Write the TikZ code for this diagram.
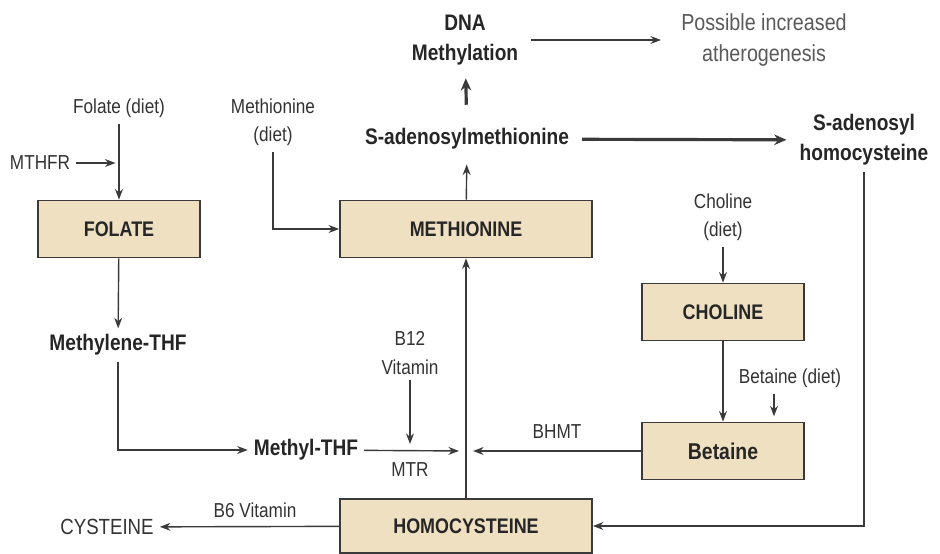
\documentclass[tikz,border=0pt]{standalone}
\usepackage{fontspec}
\setmainfont{Liberation Sans}[FakeStretch=0.85]
\usetikzlibrary{arrows.meta}
\definecolor{boxfill}{HTML}{EFE0C2}
\definecolor{inkgray}{HTML}{3A3A3A}

\begin{document}
\begin{tikzpicture}[x=0.02cm,y=-0.02cm,
    box/.style={draw=inkgray,fill=boxfill,line width=1pt,minimum width=3.24cm,minimum height=1.14cm,font=\fontsize{12}{14}\selectfont\bfseries,text=black!85},
    bigbox/.style={box,minimum width=5.04cm},
    lbl/.style={font=\fontsize{12.8}{17}\selectfont\bfseries,align=center,text=black!85},
    note/.style={font=\fontsize{11.5}{16}\selectfont,align=center,text=black!80},
    arr/.style={draw=inkgray,line width=0.8pt,-{Stealth[length=6pt,width=4.5pt]}},
    fat/.style={arr,line width=1.8pt,-{Stealth[length=7pt,width=6pt]}}]
    \useasboundingbox (0,0) rectangle (940,554);
    \node[box] (fol) at (119,229) {FOLATE};
    \node[bigbox] (meth) at (466,229) {METHIONINE};
    \node[box] (chol) at (723,312) {CHOLINE};
    \node[box,font=\fontsize{13}{15}\selectfont\bfseries] (bet) at (723,451) {Betaine};
    \node[bigbox,minimum height=1.08cm] (hcy) at (466,526) {HOMOCYSTEINE};
    \node[lbl] (dna) at (465,40) {DNA\\Methylation};
    \node[note,text=black!65,font=\fontsize{13.2}{18}\selectfont] (athero) at (764,40) {Possible increased\\atherogenesis};
    \node[lbl] (sam) at (467,139) {S-adenosylmethionine};
    \node[lbl] (sah) at (864,140) {S-adenosyl\\homocysteine};
    \node[note] (folDiet) at (119,108) {Folate (diet)};
    \node[note] (mthfr) at (40,163) {MTHFR};
    \node[note] (methDiet) at (273,122) {Methionine\\(diet)};
    \node[lbl] (mlTHF) at (118,345) {Methylene-THF};
    \node[lbl] (mtTHF) at (306,450) {Methyl-THF};
    \node[note] (b12) at (410,353) {B12\\Vitamin};
    \node[note] (mtr) at (410,470) {MTR};
    \node[note] (cholDiet) at (723,217) {Choline\\(diet)};
    \node[note] (betDiet) at (790,378) {Betaine (diet)};
    \node[note] (bhmt) at (557,432) {BHMT};
    \node[note] (b6) at (255,510) {B6 Vitamin};
    \node[note,font=\fontsize{12.5}{15}\selectfont] (cys) at (107,527) {CYSTEINE};
    \coordinate (jn) at (hcy.north |- bet.west);
    \draw[arr] (folDiet) -- (fol);
    \draw[arr,shorten >=2] (mthfr) -- (fol.north |- mthfr);
    \draw[arr] (methDiet) |- (meth);
    \draw[arr] (fol) -- (mlTHF);
    \draw[arr] (mlTHF) |- (mtTHF);
    \draw[arr,shorten >=4] (mtTHF) -- (jn);
    \draw[arr,shorten >=4] (b12) -- (b12 |- jn);
    \draw[arr,shorten >=4] (bet) -- (jn);
    \draw[arr] (hcy) -- (meth);
    \draw[arr,shorten >=5] (meth) -- (sam);
    \draw[fat,shorten <=10,shorten >=4] (sam) -- (dna);
    \draw[arr,shorten <=4,shorten >=8] (dna) -- (athero);
    \draw[fat,shorten <=4,shorten >=4] (sam) -- (sah);
    \draw[arr] (sah) |- (hcy);
    \draw[arr] (hcy) -- (cys);
    \draw[arr] (cholDiet) -- (chol);
    \draw[arr] (chol) -- (bet);
    \draw[arr,shorten >=3] ([xshift=-0.32cm]betDiet.south) -- ([xshift=-0.32cm]betDiet.south |- bet.north);
\end{tikzpicture}
\end{document}
